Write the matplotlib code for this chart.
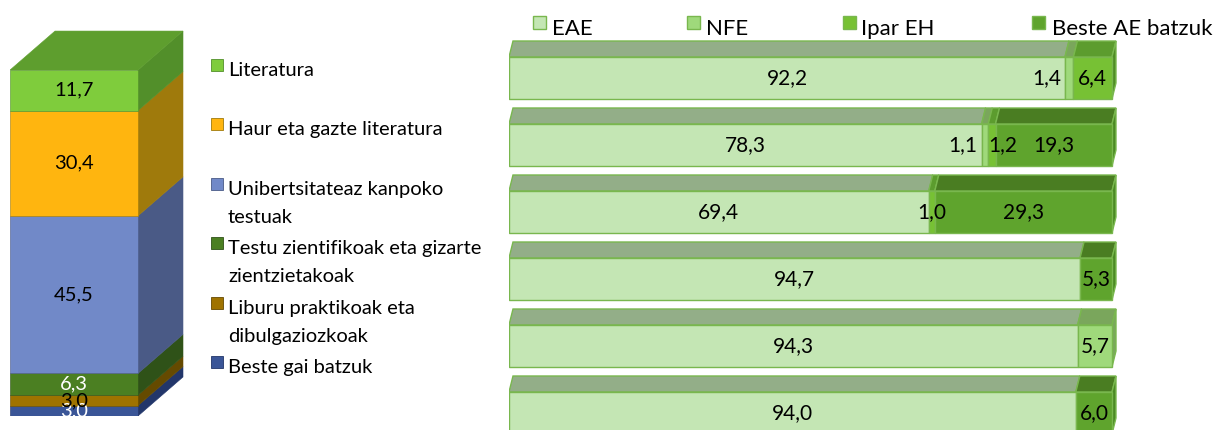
import matplotlib
matplotlib.use("Agg")
import matplotlib.pyplot as plt
from matplotlib.patches import Polygon, Rectangle
from matplotlib import font_manager

avail = {f.name for f in font_manager.fontManager.ttflist}
FONT = 'Lato' if 'Lato' in avail else 'DejaVu Sans'
plt.rcParams['font.family'] = [FONT, 'DejaVu Sans']

# ---------------- data ----------------
# left stacked block (listed top -> bottom, as in its legend)
topic_names = ["Literatura", "Haur eta gazte literatura",
               "Unibertsitateaz kanpoko\ntestuak",
               "Testu zientifikoak eta gizarte\nzientzietakoak",
               "Liburu praktikoak eta\ndibulgaziozkoak",
               "Beste gai batzuk"]
topic_values = [11.7, 30.4, 45.5, 6.3, 3.0, 3.0]

# right 100% bars (one row per topic, top -> bottom)
series_names = ["EAE", "NFE", "Ipar EH", "Beste AE batzuk"]
eae = [92.2, 78.3, 69.4, 94.7, 94.3, 94.0]
nfe = [1.4, 1.1, 0.0, 0.0, 5.7, 0.0]
ipar = [6.4, 1.2, 1.0, 0.0, 0.0, 0.0]
beste = [0.0, 19.3, 29.3, 5.3, 0.0, 6.0]

# ---------------- styles ----------------
topic_front = ["#7fcc3c", "#ffb50f", "#7189c8", "#4b7f22", "#9f7300", "#3a5597"]
topic_side = ["#528f2a", "#9f7a0c", "#4a5a86", "#2f5218", "#654a00", "#22366a"]
topic_top = ["#5e9e2e", "#b38a10", "#56689a", "#3a6420", "#7a5a00", "#2c4280"]
topic_txt = ["black", "black", "black", "white", "black", "white"]

ser_front = ["#c4e6b4", "#9fd97b", "#77c134", "#5fa42d"]
ser_top = ["#93ae88", "#7aa65c", "#5c9c2e", "#4a7d22"]
ser_side = ["#8fb07f", "#79a85b", "#4f8d25", "#4b8a24"]
EDGE = "#79b74e"
# label shifts (data units) for crowded small segments: (row, series) -> dx
label_shift = {(0, 1): -3.8, (1, 1): -3.6, (1, 2): 1.75}

W, H = 1216, 430
fig = plt.figure(figsize=(W / 100, H / 100), dpi=100)

def fxp(px):
    return px / W

def fyp(py):
    return 1 - py / H

def fmt(v):
    return f"{v:.1f}".replace(".", ",")

# ---------------- left 3D stacked block ----------------
ppu_y = 3.463
ax1 = fig.add_axes([fxp(10), 14 / H, 1.4 * 128 / W, 112 * ppu_y / H])
ax1.set_xlim(0, 1.4)
ax1.set_ylim(0, 112)
ax1.axis("off")
ddx, ddy = 45 / 128, 39 / ppu_y

order = list(range(len(topic_values)))[::-1]  # bottom -> top
cum = 0.0
for k, i in enumerate(order):
    v = topic_values[i]
    ax1.bar(0.5, v, bottom=cum, width=1.0, color=topic_front[i],
            edgecolor=topic_side[i], linewidth=0.4, zorder=2)
    side = Polygon([(1, cum), (1 + ddx, cum + ddy), (1 + ddx, cum + v + ddy), (1, cum + v)],
                   closed=True, facecolor=topic_side[i], edgecolor=topic_side[i],
                   linewidth=0.4, zorder=1)
    ax1.add_patch(side)
    if k == len(order) - 1:
        top = Polygon([(0, cum + v), (1, cum + v), (1 + ddx, cum + v + ddy), (ddx, cum + v + ddy)],
                      closed=True, facecolor=topic_top[i], edgecolor=topic_top[i],
                      linewidth=0.4, zorder=1)
        ax1.add_patch(top)
    ax1.text(0.5, cum + v / 2, fmt(v), ha="center", va="center",
             fontsize=14.5, color=topic_txt[i], zorder=5)
    cum += v

# left legend
base0, step, lstep = 76, 59.4, 28
for i, name in enumerate(topic_names):
    b = base0 + step * i
    fig.patches.append(Rectangle((fxp(211), fyp(b - 5)), 12 / W, 12 / H,
                                 transform=fig.transFigure, facecolor=topic_front[i],
                                 edgecolor=topic_side[i], linewidth=0.6))
    for j, line in enumerate(name.split("\n")):
        fig.text(fxp(228), fyp(b + j * lstep), line, ha="left", va="baseline",
                 fontsize=14.5, color="black")

# ---------------- right 3D 100% bars ----------------
ppu_x = 6.03
pitch = 67.0
row0 = 78.0
ax2 = fig.add_axes([fxp(509), 0, 104 * ppu_x / W, 1])
ax2.set_xlim(0, 104)
ax2.set_ylim((H - row0) / pitch, -row0 / pitch)
ax2.axis("off")
hh = 21 / pitch
tdx, tdy = 4 / ppu_x, 16 / pitch

rows = list(zip(eae, nfe, ipar, beste))
for r, vals in enumerate(rows):
    tot = sum(vals)
    cumr = 0.0
    last = max(k for k, v in enumerate(vals) if v > 0)
    for s, v in enumerate(vals):
        if v <= 0:
            continue
        w = v / tot * 100
        ax2.barh(r, w, left=cumr, height=2 * hh, color=ser_front[s],
                 edgecolor=EDGE, linewidth=1.0, zorder=3)
        topf = Polygon([(cumr, r - hh), (cumr + w, r - hh), (cumr + w + tdx, r - hh - tdy),
                        (cumr + tdx, r - hh - tdy)], closed=True, facecolor=ser_top[s],
                       edgecolor=EDGE, linewidth=1.0, zorder=2)
        ax2.add_patch(topf)
        if s == last:
            e = cumr + w
            sidef = Polygon([(e, r - hh), (e + tdx, r - hh - tdy), (e + tdx, r + hh - tdy),
                             (e, r + hh)], closed=True, facecolor=ser_side[s],
                            edgecolor=EDGE, linewidth=1.0, zorder=2)
            ax2.add_patch(sidef)
        x = cumr + w / 2 + label_shift.get((r, s), 0.0)
        ax2.text(x, r, fmt(v), ha="center", va="center", fontsize=15,
                 color="black", zorder=6)
        cumr += w

# top legend
leg_mark_x = [533, 687, 843, 1032]
leg_text_x = [552, 706, 861, 1052]
for s, name in enumerate(series_names):
    fig.patches.append(Rectangle((fxp(leg_mark_x[s]), fyp(29)), 13 / W, 13 / H,
                                 transform=fig.transFigure, facecolor=ser_front[s],
                                 edgecolor=EDGE, linewidth=1.0))
    fig.text(fxp(leg_text_x[s]), fyp(35), name, ha="left", va="baseline",
             fontsize=16, color="black")

fig.savefig("out.png", dpi=100)
